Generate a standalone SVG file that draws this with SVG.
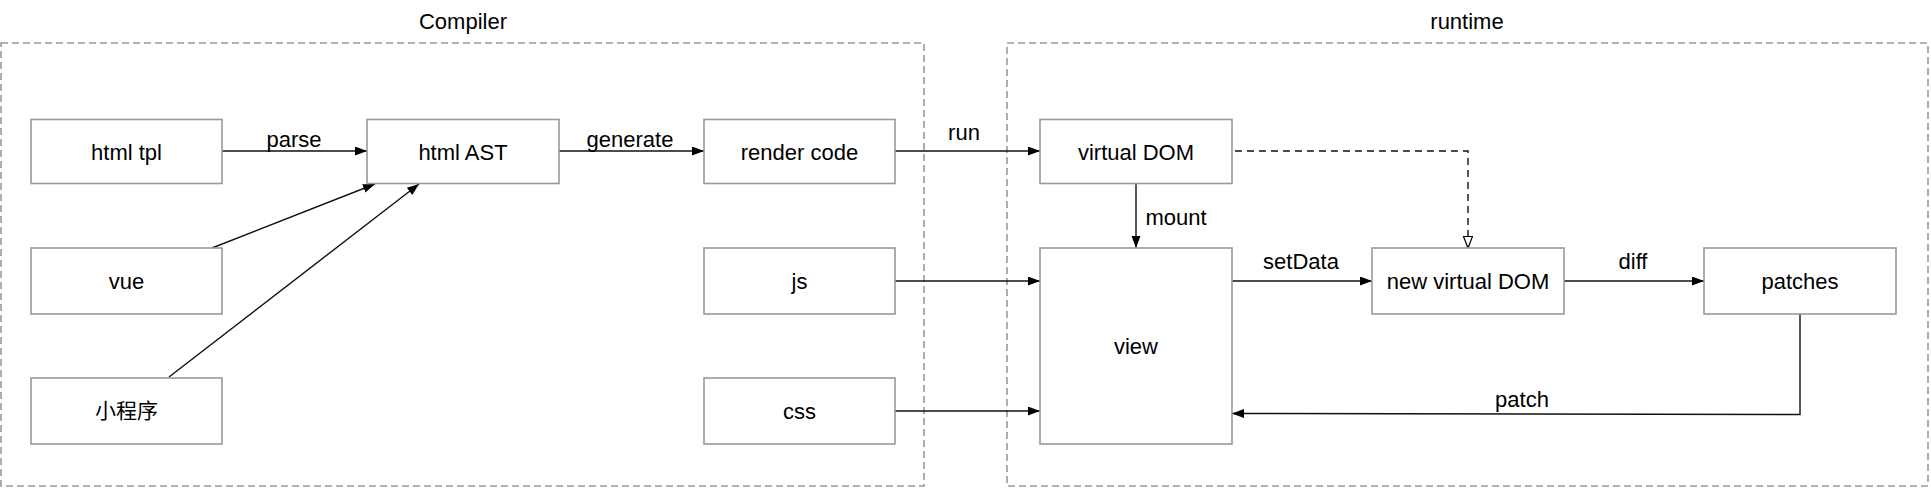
<svg xmlns="http://www.w3.org/2000/svg" width="1931" height="488" viewBox="0 0 1931 488">
<defs>
<style>
text{font-family:"Liberation Sans",Arial,"Noto Sans CJK SC",sans-serif;font-size:22px;fill:#000;text-anchor:middle}
.cjk{font-family:"Noto Sans CJK SC","Liberation Sans",sans-serif;font-size:21px}
.node rect{fill:#fff;stroke:#999;stroke-width:1.6}
.container{fill:none;stroke:#999;stroke-width:1.6;stroke-dasharray:7 4}
.edge{fill:none;stroke:#111;stroke-width:1.4}
.dash{stroke-dasharray:7 5}
</style>
<marker id="arr" markerUnits="userSpaceOnUse" markerWidth="14" markerHeight="10" refX="12" refY="4.5" orient="auto">
<path d="M0,0 L12,4.5 L0,9 z" fill="#000"/>
</marker>
<marker id="open" markerUnits="userSpaceOnUse" markerWidth="14" markerHeight="12" refX="12" refY="5" orient="auto">
<path d="M0.5,0.5 L12,5 L0.5,9.5 z" fill="#fff" stroke="#000" stroke-width="1.2"/>
</marker>
</defs>
<rect width="1931" height="488" fill="#fff"/>

<g id="compiler-group">
<rect class="container" x="1" y="43" width="923" height="443"/>
<text x="463" y="29">Compiler</text>
</g>
<g id="runtime-group">
<rect class="container" x="1007" y="43" width="921" height="443"/>
<text x="1467" y="29">runtime</text>
</g>

<g id="connectors">
<line class="edge" x1="222" y1="151" x2="367" y2="151" marker-end="url(#arr)"/>
<line class="edge" x1="212" y1="248" x2="375" y2="184" marker-end="url(#arr)"/>
<line class="edge" x1="169" y1="377" x2="419" y2="184" marker-end="url(#arr)"/>
<line class="edge" x1="559" y1="151" x2="704" y2="151" marker-end="url(#arr)"/>
<line class="edge" x1="895" y1="151" x2="1040" y2="151" marker-end="url(#arr)"/>
<line class="edge" x1="1136" y1="184" x2="1136" y2="248" marker-end="url(#arr)"/>
<line class="edge" x1="895" y1="281" x2="1040" y2="281" marker-end="url(#arr)"/>
<line class="edge" x1="895" y1="411" x2="1040" y2="411" marker-end="url(#arr)"/>
<line class="edge" x1="1232" y1="281" x2="1372" y2="281" marker-end="url(#arr)"/>
<line class="edge" x1="1564" y1="281" x2="1704" y2="281" marker-end="url(#arr)"/>
<polyline class="edge" points="1800,313 1800,414.5 1232,413.5" marker-end="url(#arr)"/>
<polyline class="edge dash" points="1235,151 1468,151 1468,248" marker-end="url(#open)"/>
<text x="294" y="147">parse</text>
<text x="630" y="147">generate</text>
<text x="964" y="140">run</text>
<text x="1176" y="225">mount</text>
<text x="1301" y="269">setData</text>
<text x="1633" y="269">diff</text>
<text x="1522" y="407">patch</text>
</g>

<g id="html-tpl" class="node"><rect x="31" y="119.5" width="191" height="64"/><text x="126.5" y="159.5">html tpl</text></g>
<g id="vue" class="node"><rect x="31" y="248" width="191" height="66"/><text x="126.5" y="289">vue</text></g>
<g id="miniprogram" class="node"><rect x="31" y="378" width="191" height="66"/><text class="cjk" x="126.5" y="418">小程序</text></g>
<g id="html-ast" class="node"><rect x="367" y="119.5" width="192" height="64"/><text x="463" y="159.5">html AST</text></g>
<g id="render-code" class="node"><rect x="704" y="119.5" width="191" height="64"/><text x="799.5" y="159.5">render code</text></g>
<g id="js" class="node"><rect x="704" y="248" width="191" height="66"/><text x="799.5" y="289">js</text></g>
<g id="css" class="node"><rect x="704" y="378" width="191" height="66"/><text x="799.5" y="419">css</text></g>
<g id="virtual-dom" class="node"><rect x="1040" y="119.5" width="192" height="64"/><text x="1136" y="159.5">virtual DOM</text></g>
<g id="view" class="node"><rect x="1040" y="248" width="192" height="196"/><text x="1136" y="354">view</text></g>
<g id="new-virtual-dom" class="node"><rect x="1372" y="248" width="192" height="66"/><text x="1468" y="289">new virtual DOM</text></g>
<g id="patches" class="node"><rect x="1704" y="248" width="192" height="66"/><text x="1800" y="289">patches</text></g>
</svg>
